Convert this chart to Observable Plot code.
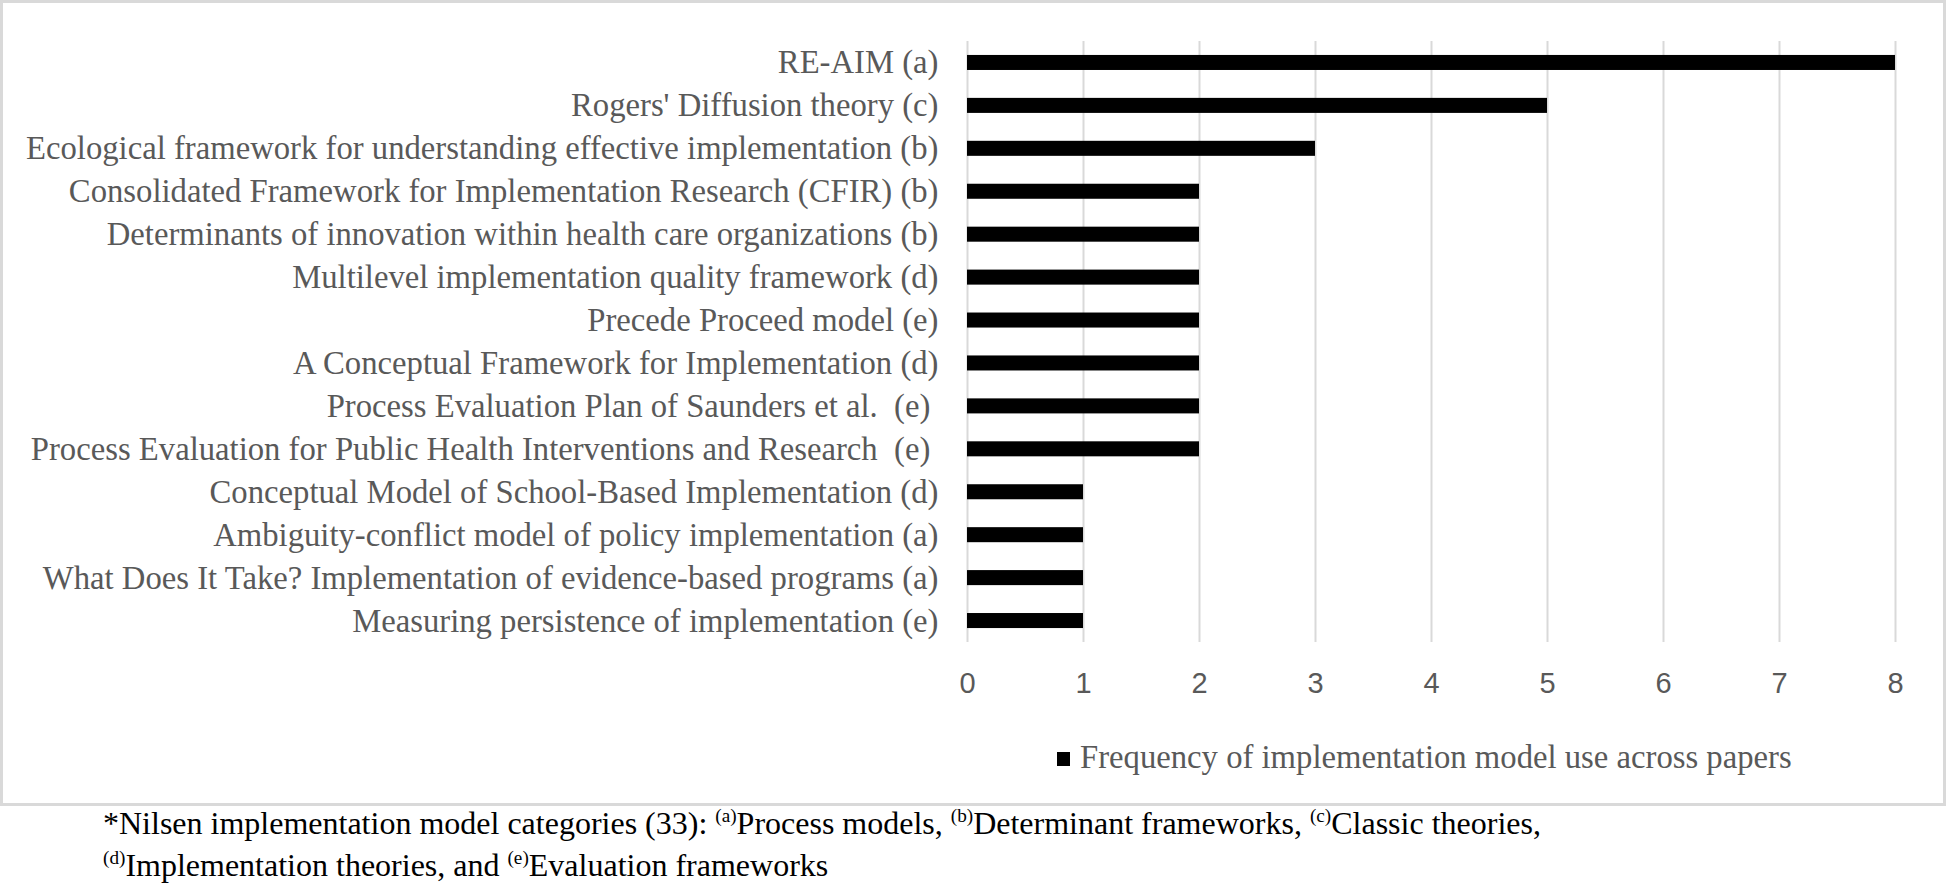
<!DOCTYPE html>
<html><head><meta charset="utf-8">
<script src="https://cdn.jsdelivr.net/npm/d3@7"></script>
<script src="https://cdn.jsdelivr.net/npm/@observablehq/plot@0.6"></script>
<style>
body{margin:0;background:#fff;width:1946px;height:883px;overflow:hidden;position:relative;}
#box{position:absolute;left:0;top:0;width:1940px;height:800px;border:3px solid #d9d9d9;}
#chart{position:absolute;left:3px;top:3px;}
#legend{position:absolute;left:1057px;top:739px;font-family:"Liberation Serif","Times New Roman",serif;font-size:32.7px;color:#595959;line-height:36px;white-space:nowrap;}
#legend .sw{display:inline-block;width:13px;height:14px;background:#000;margin-right:10px;vertical-align:middle;position:relative;top:-2px;}
#note{position:absolute;left:103px;top:802px;font-family:"Liberation Serif","Times New Roman",serif;font-size:32px;color:#000;line-height:42px;white-space:nowrap;}
#note sup{font-size:0.6em;line-height:0;vertical-align:0.6em;}
</style></head>
<body>
<div id="box"></div>
<div id="chart"></div>
<div id="legend"></div>
<div id="note"></div>
<script>
const models = [
  "RE-AIM (a)",
  "Rogers' Diffusion theory (c)",
  "Ecological framework for understanding effective implementation (b)",
  "Consolidated Framework for Implementation Research (CFIR) (b)",
  "Determinants of innovation within health care organizations (b)",
  "Multilevel implementation quality framework (d)",
  "Precede Proceed model (e)",
  "A Conceptual Framework for Implementation (d)",
  "Process Evaluation Plan of Saunders et al.  (e) ",
  "Process Evaluation for Public Health Interventions and Research  (e) ",
  "Conceptual Model of School-Based Implementation (d)",
  "Ambiguity-conflict model of policy implementation (a)",
  "What Does It Take? Implementation of evidence-based programs (a)",
  "Measuring persistence of implementation (e)"
];
const frequency = [8, 5, 3, 2, 2, 2, 2, 2, 2, 2, 1, 1, 1, 1];
const xTicks = [0, 1, 2, 3, 4, 5, 6, 7, 8];
const seriesName = "Frequency of implementation model use across papers";

const data = models.map((m, i) => ({model: m, value: frequency[i]}));

const W = 1938, H = 700;
const chart = Plot.plot({
  width: W, height: H,
  marginLeft: 964, marginRight: 46, marginTop: 38, marginBottom: H - 639,
  style: {background: "transparent", overflow: "visible"},
  x: {domain: [0, 8], ticks: xTicks, label: null},
  y: {domain: models, label: null, paddingInner: 0.65, paddingOuter: 0.325, align: 0.5, round: false},
  marks: [
    Plot.gridX(xTicks, {stroke: "#d9d9d9", strokeOpacity: 1, strokeWidth: 2}),
    Plot.barX(data, {x: "value", y: "model", fill: "#000", insetTop: 0, insetBottom: 0}),
    Plot.axisX({ticks: xTicks, tickSize: 0, tickPadding: 30, fontSize: 29, label: null,
      fontFamily: "'Liberation Sans Narrow','Liberation Sans',sans-serif", fill: "#595959"}),
    Plot.axisY({tickSize: 0, tickPadding: 29, fontSize: 32.7, label: null,
      fontFamily: "'Liberation Serif','Times New Roman',serif", fill: "#595959"})
  ]
});
chart.querySelectorAll("text").forEach(t => t.style.whiteSpace = "pre");
document.getElementById("chart").appendChild(chart);

document.getElementById("legend").innerHTML = '<span class="sw"></span>' + seriesName;
document.getElementById("note").innerHTML =
  '*Nilsen implementation model categories (33): <sup>(a)</sup>Process models, <sup>(b)</sup>Determinant frameworks, <sup>(c)</sup>Classic theories,<br>' +
  '<sup>(d)</sup>Implementation theories, and <sup>(e)</sup>Evaluation frameworks';
</script>
</body></html>
